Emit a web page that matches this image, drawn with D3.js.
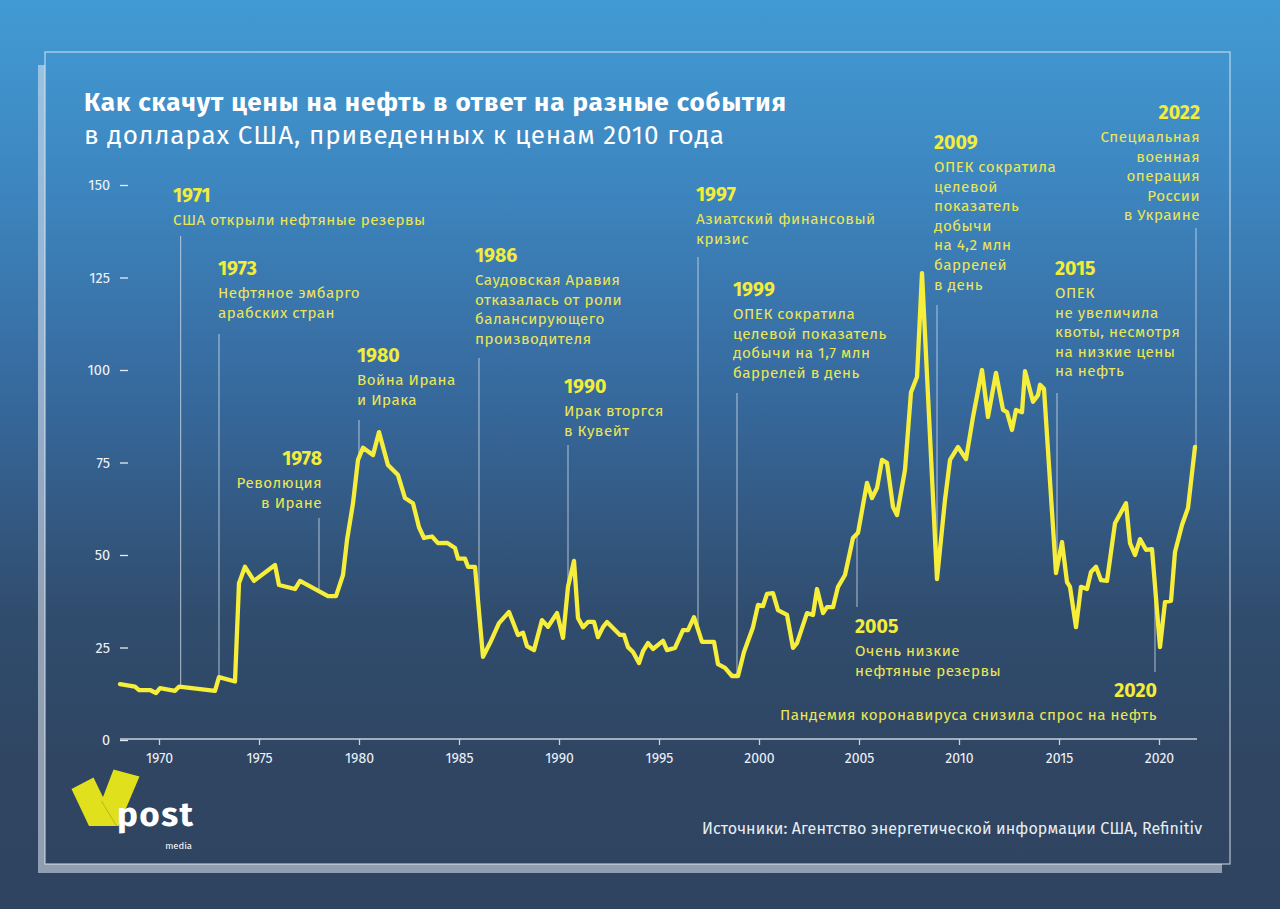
<!DOCTYPE html>
<html>
<head>
<meta charset="utf-8">
<script src="https://cdn.jsdelivr.net/npm/d3@7"></script>
<style>
  html, body { margin: 0; padding: 0; background: #2f4562; }
  svg { display: block; }
  text { font-family: "Fira Sans", "Noto Sans", "Open Sans", sans-serif; }
</style>
</head>
<body>
<svg id="chart" width="1280" height="909"></svg>
<script>
// ---------- DATA ----------
const years = [
  1968.05, 1968.8, 1969.0, 1969.55, 1969.85, 1970.05, 1970.8, 1971.0, 1972.8, 1973.0,
  1973.8, 1974.0, 1974.3, 1974.75, 1975.8, 1976.0, 1976.8, 1977.05, 1978.45, 1978.85,
  1979.2, 1979.4, 1979.7, 1979.95, 1980.2, 1980.7, 1981.0, 1981.45, 1981.95, 1982.3,
  1982.7, 1983.0, 1983.25, 1983.65, 1983.95, 1984.4, 1984.8, 1984.95, 1985.3, 1985.45,
  1985.8, 1986.2, 1986.55, 1987.0, 1987.5, 1987.95, 1988.2, 1988.4, 1988.75, 1989.15,
  1989.45, 1989.9, 1990.2, 1990.45, 1990.75, 1990.95, 1991.2, 1991.45, 1991.75, 1991.95,
  1992.2, 1992.4, 1993.05, 1993.25, 1993.45, 1993.7, 1994.0, 1994.2, 1994.45, 1994.7,
  1995.2, 1995.4, 1995.8, 1996.2, 1996.45, 1996.75, 1997.15, 1997.75, 1997.95, 1998.3,
  1998.65, 1998.95, 1999.25, 1999.7, 1999.95, 2000.2, 2000.4, 2000.7, 2000.95, 2001.4,
  2001.7, 2001.9, 2002.4, 2002.7, 2002.9, 2003.2, 2003.4, 2003.7, 2003.95, 2004.3,
  2004.7, 2004.95, 2005.4, 2005.65, 2005.9, 2006.15, 2006.4, 2006.7, 2006.9, 2007.3,
  2007.6, 2007.9, 2008.15, 2008.9, 2009.3, 2009.55, 2009.95, 2010.35, 2010.7, 2011.15,
  2011.45, 2011.85, 2012.2, 2012.4, 2012.65, 2012.85, 2013.15, 2013.3, 2013.7, 2013.95,
  2014.05, 2014.25, 2014.85, 2015.15, 2015.4, 2015.55, 2015.85, 2016.1, 2016.4, 2016.6,
  2016.85, 2017.1, 2017.4, 2017.8, 2018.35, 2018.55, 2018.8, 2019.05, 2019.35, 2019.65,
  2020.05, 2020.3, 2020.6, 2020.8, 2021.15, 2021.45, 2021.8
];
const prices = [
  15.1, 14.4, 13.5, 13.5, 12.7, 14.0, 13.3, 14.4, 13.3, 17.0,
  15.8, 42.4, 46.8, 43.0, 47.3, 41.9, 40.8, 43.0, 38.9, 38.9,
  44.6, 54.0, 64.0, 75.7, 79.0, 77.0, 83.2, 74.3, 71.6, 65.4,
  64.0, 57.5, 54.6, 55.0, 53.2, 53.3, 51.9, 49.0, 49.0, 46.8,
  46.8, 22.5, 26.2, 31.6, 34.6, 28.4, 29.0, 25.4, 24.3, 32.4,
  30.6, 34.3, 27.6, 41.4, 48.4, 33.0, 30.5, 31.9, 31.9, 27.8,
  30.5, 31.9, 28.4, 28.4, 25.1, 23.8, 20.8, 24.0, 26.2, 24.6,
  26.8, 24.3, 24.9, 29.7, 29.7, 33.2, 26.5, 26.5, 20.5, 19.5,
  17.3, 17.3, 23.8, 30.5, 36.5, 36.2, 39.5, 39.7, 35.1, 33.8,
  24.9, 26.2, 34.3, 33.8, 40.8, 34.3, 35.9, 35.9, 41.4, 44.6,
  54.6, 56.0, 69.5, 65.4, 68.1, 75.7, 74.9, 63.0, 60.8, 73.0,
  94.0, 98.1, 126.2, 43.5, 64.9, 75.7, 79.2, 75.9, 87.3, 100.0,
  87.3, 99.2, 89.2, 88.6, 83.8, 89.2, 88.6, 99.7, 91.4, 93.2,
  96.0, 94.9, 45.1, 53.5, 42.7, 41.4, 30.5, 41.4, 40.8, 45.4,
  46.8, 43.2, 43.0, 58.6, 64.0, 53.2, 50.0, 54.3, 51.4, 51.6,
  25.1, 37.3, 37.6, 50.8, 58.1, 62.7, 79.2
];
const yTicks = [0, 25, 50, 75, 100, 125, 150];
const xTicks = [1970, 1975, 1980, 1985, 1990, 1995, 2000, 2005, 2010, 2015, 2020];

const titleText = "Как скачут цены на нефть в ответ на разные события";
const subtitleText = "в долларах США, приведенных к ценам 2010 года";
const sourceText = "Источники: Агентство энергетической информации США, Refinitiv";

// annotation events (year of marker, heading, text lines)
const eventYears = [1971.08, 1973.0, 1978.0, 1980.0, 1986.0, 1990.45, 1996.95, 1998.9, 2004.9, 2008.9, 2014.9, 2019.8, 2021.85];
const eventTitles = ["1971", "1973", "1978", "1980", "1986", "1990", "1997", "1999", "2005", "2009", "2015", "2020", "2022"];
const eventTexts = [
  ["США открыли нефтяные резервы"],
  ["Нефтяное эмбарго", "арабских стран"],
  ["Революция", "в Иране"],
  ["Война Ирана", "и Ирака"],
  ["Саудовская Аравия", "отказалась от роли", "балансирующего", "производителя"],
  ["Ирак вторгся", "в Кувейт"],
  ["Азиатский финансовый", "кризис"],
  ["ОПЕК сократила", "целевой показатель", "добычи на 1,7 млн", "баррелей в день"],
  ["Очень низкие", "нефтяные резервы"],
  ["ОПЕК сократила", "целевой", "показатель", "добычи", "на 4,2 млн", "баррелей", "в день"],
  ["ОПЕК", "не увеличила", "квоты, несмотря", "на низкие цены", "на нефть"],
  ["Пандемия коронавируса снизила спрос на нефть"],
  ["Специальная", "военная", "операция", "России", "в Украине"]
];

// ---------- LAYOUT ----------
// label placement per event: [labelX, headingBaselineY, anchor, connectorOtherEndY]
const eventLayout = [
  [173, 202, "start", 236],
  [218, 275, "start", 334],
  [322, 465, "end", 518],
  [357, 362, "start", 420],
  [475, 262, "start", 358],
  [564, 393, "start", 445],
  [696, 201, "start", 257],
  [733, 296, "start", 393],
  [855, 633, "start", 607],
  [934, 149, "start", 305],
  [1055, 275, "start", 393],
  [1157, 697, "end", 672],
  [1200, 119, "end", 228]
];

const W = 1280, H = 909;
const svg = d3.select("#chart");
const defs = svg.append("defs");
const grad = defs.append("linearGradient").attr("id", "bg")
  .attr("gradientUnits", "userSpaceOnUse")
  .attr("x1", 0).attr("y1", 0).attr("x2", 0).attr("y2", H);
[[0, "#429bd4"], [0.2, "#3d86c0"], [0.45, "#36679a"], [0.68, "#304c6d"], [0.85, "#2f4562"], [1, "#2f4460"]]
  .forEach(([o, c]) => grad.append("stop").attr("offset", o).attr("stop-color", c));

svg.append("rect").attr("width", W).attr("height", H).attr("fill", "url(#bg)");
// frame shadow + panel
svg.append("rect").attr("x", 38).attr("y", 65).attr("width", 1184).attr("height", 808)
  .attr("fill", "rgba(225,232,242,0.55)");
svg.append("rect").attr("x", 45).attr("y", 52).attr("width", 1185).attr("height", 812)
  .attr("fill", "url(#bg)").attr("stroke", "rgba(225,235,245,0.7)").attr("stroke-width", 1.3);

// title
svg.append("text").attr("x", 84).attr("y", 111).attr("fill", "#ffffff")
  .attr("font-size", 26).attr("font-weight", 700)
  .attr("textLength", 702).attr("lengthAdjust", "spacing").text(titleText);
svg.append("text").attr("x", 84).attr("y", 144).attr("fill", "#ffffff")
  .attr("font-size", 26).attr("font-weight", 400)
  .attr("textLength", 640).attr("lengthAdjust", "spacing").text(subtitleText);

// scales
const x = d3.scaleLinear().domain([1970, 2020]).range([159, 1159]);
const y = d3.scaleLinear().domain([0, 150]).range([740, 185]);

// y axis (tick dashes + labels, no domain line)
const yAxis = svg.append("g").attr("transform", "translate(128,0)")
  .call(d3.axisLeft(y).tickValues(yTicks).tickSize(8).tickPadding(10));
yAxis.select(".domain").remove();
yAxis.selectAll("line").attr("stroke", "#e6ecf3").attr("stroke-width", 1.3);
yAxis.selectAll("text").attr("fill", "#eef2f7").attr("font-size", 14.5)
  .attr("font-family", "'Fira Sans','Noto Sans',sans-serif");

// x axis
const xAxis = svg.append("g").attr("transform", `translate(0,${y(0) - 1})`)
  .call(d3.axisBottom(x).tickValues(xTicks).tickFormat(d3.format("d")).tickSize(6).tickPadding(8).tickSizeOuter(0));
xAxis.select(".domain").attr("d", `M120,0H1197`).attr("stroke", "#c9d2de").attr("stroke-width", 1.6);
xAxis.selectAll("line").attr("stroke", "#c9d2de").attr("stroke-width", 1.3);
xAxis.selectAll("text").attr("fill", "#eef2f7").attr("font-size", 14)
  .attr("font-family", "'Fira Sans','Noto Sans',sans-serif");

// connectors
const interp = yr => {
  const i = d3.bisectRight(years, yr);
  if (i <= 0) return prices[0];
  if (i >= years.length) return prices[prices.length - 1];
  const t = (yr - years[i - 1]) / (years[i] - years[i - 1]);
  return prices[i - 1] + t * (prices[i] - prices[i - 1]);
};
const ann = svg.append("g");
eventYears.forEach((yr, i) => {
  const [lx, ly, anchor, endY] = eventLayout[i];
  const px = x(yr);
  ann.append("line").attr("x1", px).attr("x2", px)
    .attr("y1", endY).attr("y2", y(interp(yr)))
    .attr("stroke", "rgba(215,226,238,0.65)").attr("stroke-width", 1.2);
  ann.append("text").attr("x", lx).attr("y", ly).attr("text-anchor", anchor)
    .attr("fill", "#f3ec3a").attr("font-size", 19.5).attr("font-weight", 700)
    .text(eventTitles[i]);
  eventTexts[i].forEach((t, j) => {
    ann.append("text").attr("x", lx).attr("y", ly + 23 + j * 19.6).attr("text-anchor", anchor)
      .attr("fill", "#ece655").attr("font-size", 15.2).attr("letter-spacing", 0.5)
      .text(t);
  });
});

// price line
const line = d3.line().x((d, i) => x(years[i])).y(d => y(d));
svg.append("path").datum(prices).attr("d", line)
  .attr("fill", "none").attr("stroke", "#f6ee3a").attr("stroke-width", 4.3)
  .attr("stroke-linejoin", "round").attr("stroke-linecap", "round");

// logo
const logo = svg.append("g");
logo.append("path").attr("d", "M71.5,789 L93.5,777.5 L117,826 L89,826 Z").attr("fill", "#e1e01c");
logo.append("path").attr("d", "M113.5,769.5 L139.5,776.5 L118.5,826 L110,826 L101.5,801 Z").attr("fill", "#e1e01c");
logo.append("path").attr("d", "M101.5,801 L116.5,826").attr("stroke", "#b9b820").attr("stroke-width", 1);
logo.append("text").attr("x", 117).attr("y", 826).attr("fill", "#ffffff")
  .attr("font-size", 35).attr("font-weight", 700)
  .attr("textLength", 76).attr("lengthAdjust", "spacing").text("post");
logo.append("text").attr("x", 192).attr("y", 849).attr("text-anchor", "end").attr("fill", "#ffffff")
  .attr("font-size", 9.5).text("media");

// source
svg.append("text").attr("x", 1202).attr("y", 834).attr("text-anchor", "end")
  .attr("fill", "#e8edf3").attr("font-size", 16)
  .attr("textLength", 500).attr("lengthAdjust", "spacing").text(sourceText);
</script>
</body>
</html>
